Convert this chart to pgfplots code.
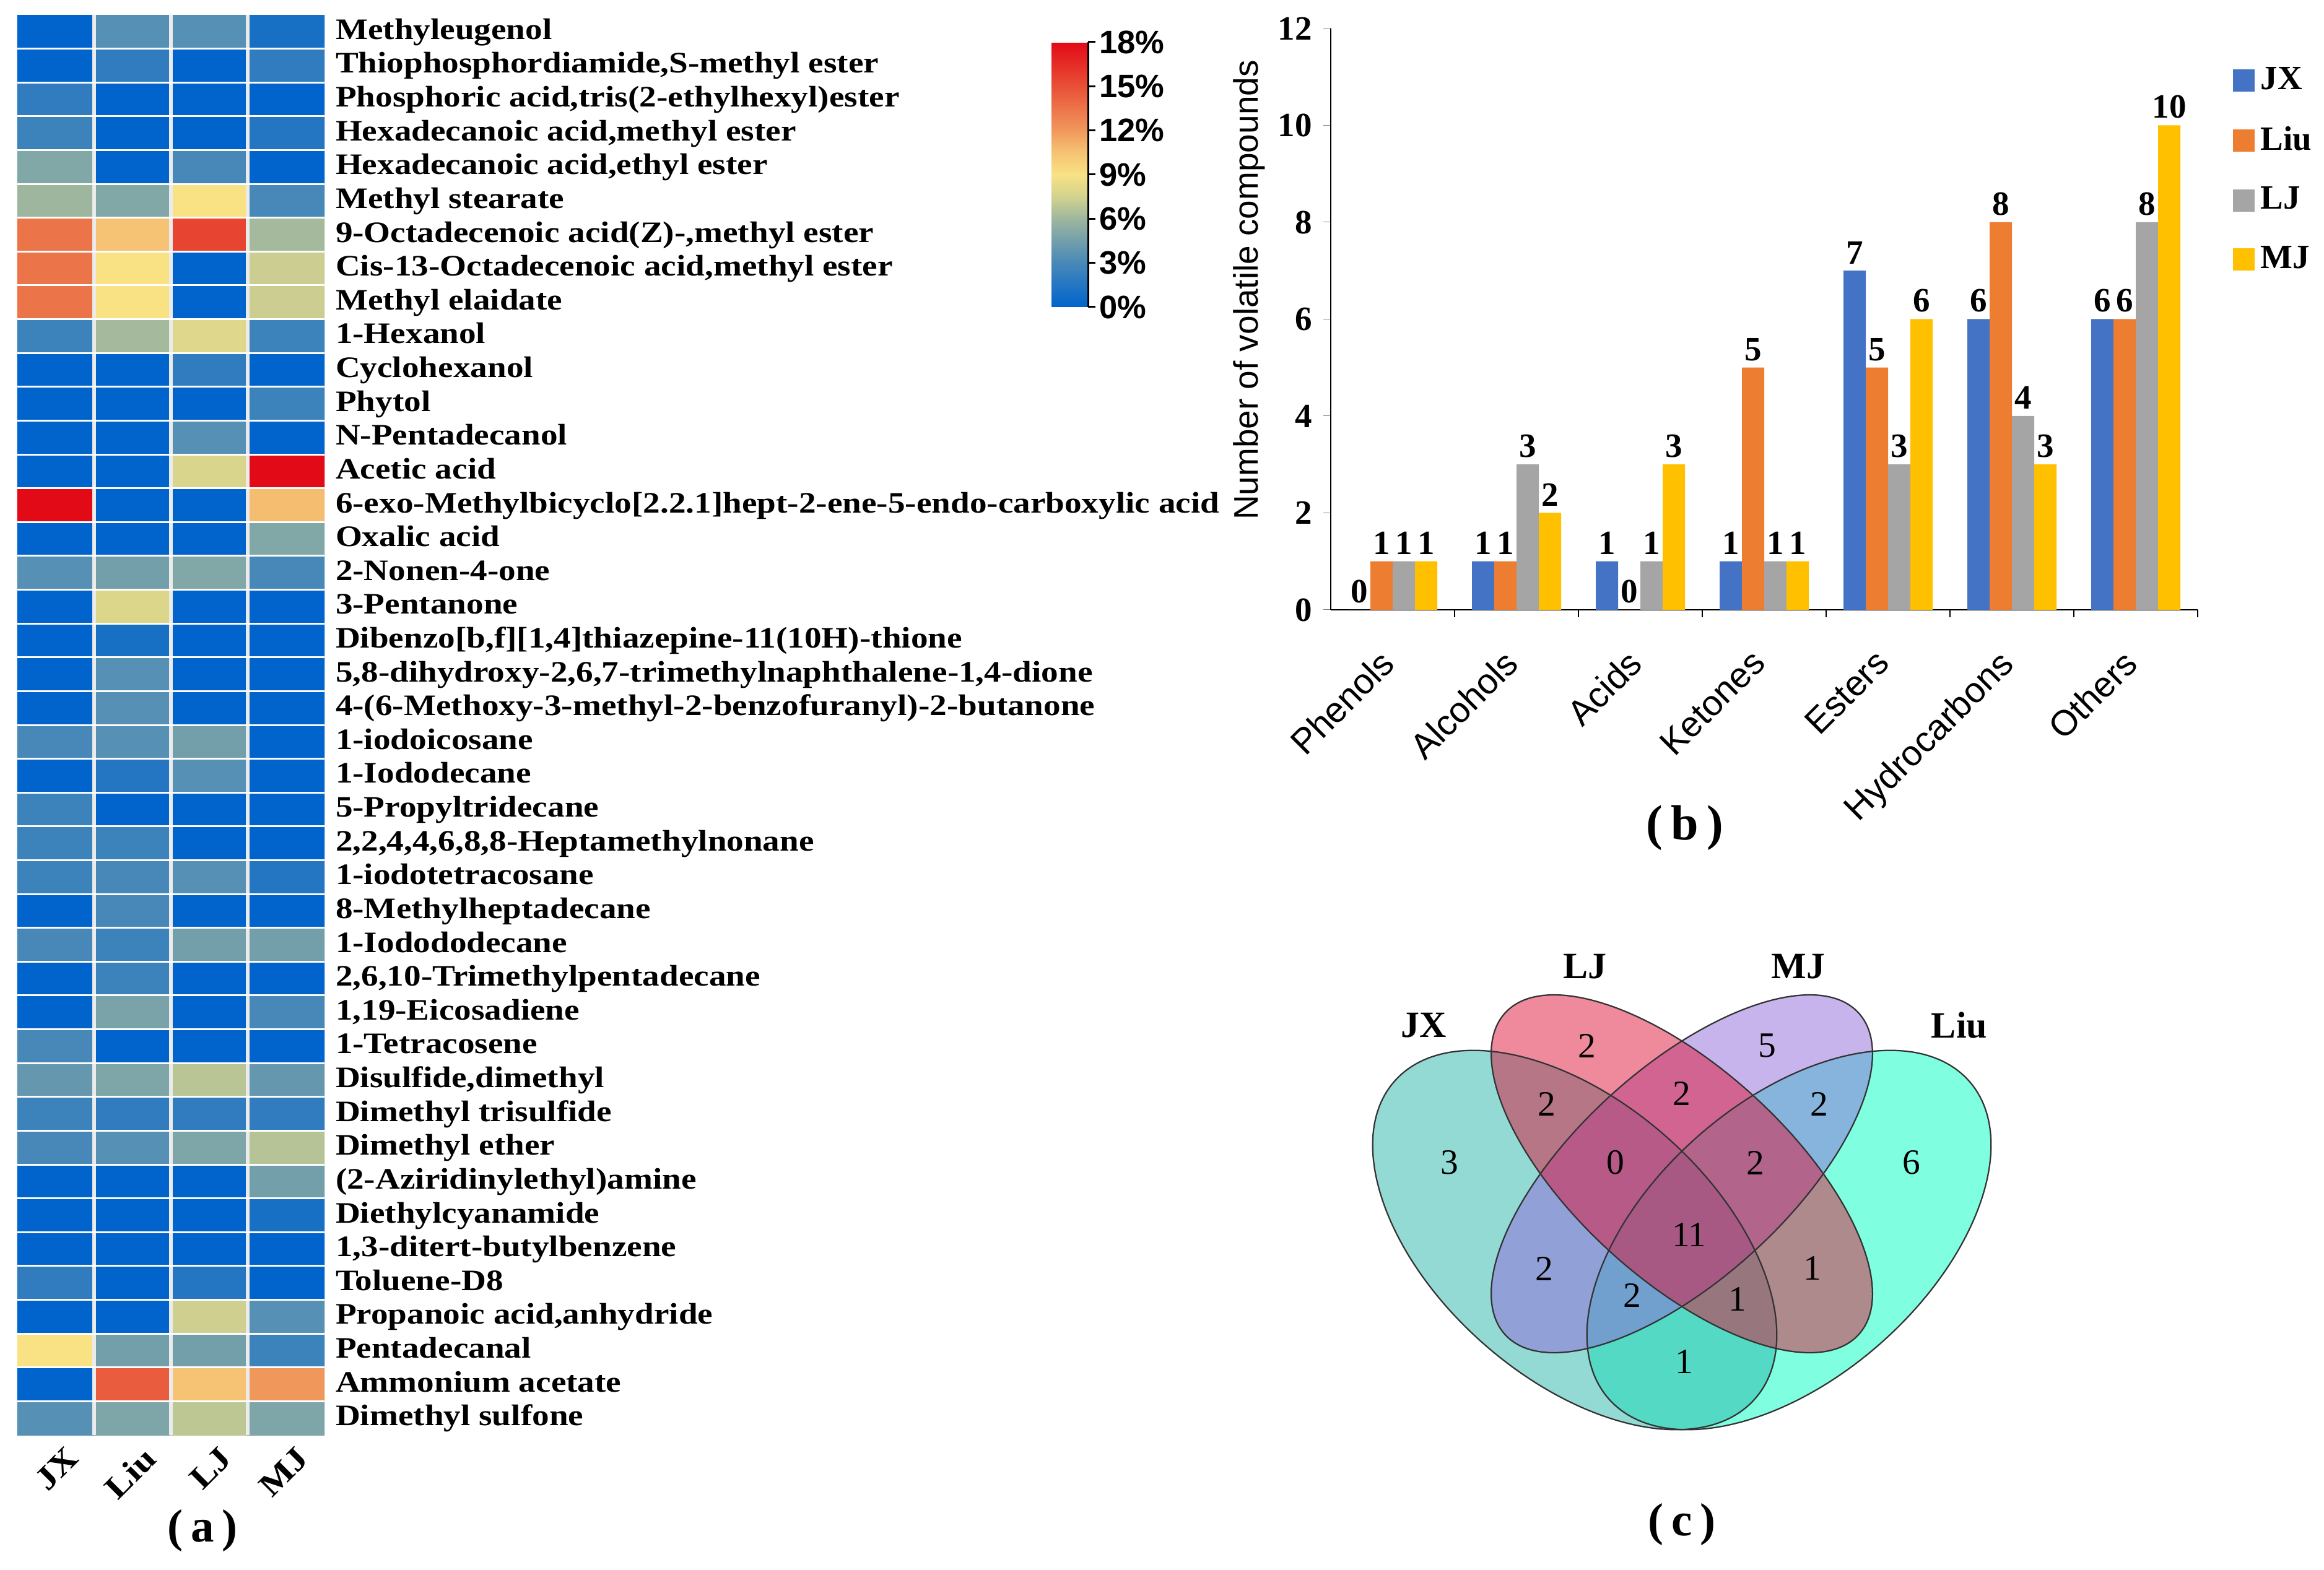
\documentclass[border=0pt]{standalone}
\usepackage{fontspec}
\setmainfont{Liberation Serif}
\newfontfamily\arial{Liberation Sans}
\newfontfamily\widefont{Liberation Serif}[FakeStretch=1.15]
\usepackage{pgfplots}
\pgfplotsset{compat=1.18}

\definecolor{cJX}{HTML}{4472C4}
\definecolor{cLiu}{HTML}{ED7D31}
\definecolor{cLJ}{HTML}{A5A5A5}
\definecolor{cMJ}{HTML}{FFC000}
\definecolor{vJX}{RGB}{39,179,169}
\definecolor{vLiu}{RGB}{0,255,193}
\definecolor{vLJ}{RGB}{221,21,57}
\definecolor{vMJ}{RGB}{145,105,217}

% colormap positions are in half percent steps (0..36 = 0..18 %)
\pgfplotsset{
  colormap={heat}{rgb255(0)=(0,100,204) rgb255(6)=(72,136,184) rgb255(12)=(158,182,158)
    rgb255(15)=(210,210,142) rgb255(18)=(248,226,132) rgb255(21)=(245,195,115)
    rgb255(24)=(240,152,92) rgb255(30)=(232,80,55) rgb255(36)=(226,10,22)},
}
\newcommand\lab{\widefont\bfseries\fontsize{9.6}{11}\selectfont}

\begin{document}
\begin{tikzpicture}
\path[use as bounding box] (0,0) rectangle (750.6pt,507pt);

% (a) heatmap
\begin{axis}[
  at={(5.6pt,43.4pt)}, anchor=south west,
  width=99.2pt, height=458.8pt, scale only axis,
  xmin=-0.5, xmax=3.5, ymin=-0.5, ymax=41.5, y dir=reverse,
  axis line style={draw=none}, major tick length=0pt, minor tick length=0pt,
  xtick={0,1,2,3}, xticklabels={JX,Liu,LJ,MJ},
  xticklabel style={xshift=3pt, yshift=-3pt, rotate=45, anchor=north east, inner sep=0pt,
    font=\widefont\bfseries\fontsize{10.5}{12}\selectfont},
  ytick={0,...,41}, yticklabel pos=right,
  yticklabels={{Methyleugenol},{Thiophosphordiamide,S-methyl ester},{Phosphoric acid,tris(2-ethylhexyl)ester},
    {Hexadecanoic acid,methyl ester},{Hexadecanoic acid,ethyl ester},{Methyl stearate},
    {9-Octadecenoic acid(Z)-,methyl ester},{Cis-13-Octadecenoic acid,methyl ester},{Methyl elaidate},
    {1-Hexanol},{Cyclohexanol},{Phytol},{N-Pentadecanol},{Acetic acid},
    {6-exo-Methylbicyclo[2.2.1]hept-2-ene-5-endo-carboxylic acid},{Oxalic acid},{2-Nonen-4-one},
    {3-Pentanone},{Dibenzo[b,f][1,4]thiazepine-11(10H)-thione},
    {5,8-dihydroxy-2,6,7-trimethylnaphthalene-1,4-dione},
    {4-(6-Methoxy-3-methyl-2-benzofuranyl)-2-butanone},{1-iodoicosane},{1-Iododecane},
    {5-Propyltridecane},{2,2,4,4,6,8,8-Heptamethylnonane},{1-iodotetracosane},
    {8-Methylheptadecane},{1-Iodododecane},{2,6,10-Trimethylpentadecane},{1,19-Eicosadiene},
    {1-Tetracosene},{Disulfide,dimethyl},{Dimethyl trisulfide},{Dimethyl ether},
    {(2-Aziridinylethyl)amine},{Diethylcyanamide},{1,3-ditert-butylbenzene},{Toluene-D8},
    {Propanoic acid,anhydride},{Pentadecanal},{Ammonium acetate},{Dimethyl sulfone}},
  yticklabel style={anchor=west, inner sep=0pt, font=\lab, xshift=3.4pt,
    text height=6.8pt, text depth=2pt},
  minor xtick={0.5,1.5,2.5}, minor ytick={0.5,1.5,...,40.5},
  xminorgrids=true, yminorgrids=true,
  x grid style={draw=black!8, line width=1.2pt},
  y grid style={draw=white, line width=0.6pt},
  axis on top,
  colormap name=heat, point meta min=0, point meta max=18,
]
\addplot[matrix plot*, mesh/cols=4, point meta=explicit] table[meta=c, row sep=\\] {
x y c\\
0 0 0\\ 1 0 3.5\\ 2 0 3.5\\ 3 0 1\\
0 1 0\\ 1 1 2\\ 2 1 0\\ 3 1 2\\
0 2 2\\ 1 2 0\\ 2 2 0\\ 3 2 0\\
0 3 2.5\\ 1 3 0\\ 2 3 0\\ 3 3 1.5\\
0 4 5\\ 1 4 0\\ 2 4 3\\ 3 4 0\\
0 5 6\\ 1 5 5\\ 2 5 9\\ 3 5 3\\
0 6 13.5\\ 1 6 10.5\\ 2 6 15.5\\ 3 6 6.2\\
0 7 13.5\\ 1 7 9\\ 2 7 0\\ 3 7 7.3\\
0 8 13.5\\ 1 8 9\\ 2 8 0\\ 3 8 7.3\\
0 9 2.5\\ 1 9 6.2\\ 2 9 8\\ 3 9 2.5\\
0 10 0\\ 1 10 0\\ 2 10 2\\ 3 10 0\\
0 11 0\\ 1 11 0\\ 2 11 0\\ 3 11 2.5\\
0 12 0\\ 1 12 0\\ 2 12 3.5\\ 3 12 0\\
0 13 0\\ 1 13 0\\ 2 13 7.8\\ 3 13 18\\
0 14 18\\ 1 14 0\\ 2 14 0\\ 3 14 10.7\\
0 15 0\\ 1 15 0\\ 2 15 0\\ 3 15 5\\
0 16 3.5\\ 1 16 4.5\\ 2 16 5\\ 3 16 3\\
0 17 0\\ 1 17 7.9\\ 2 17 0\\ 3 17 0\\
0 18 0\\ 1 18 1\\ 2 18 0\\ 3 18 0\\
0 19 0\\ 1 19 3.5\\ 2 19 0\\ 3 19 0\\
0 20 0\\ 1 20 3.5\\ 2 20 0\\ 3 20 0\\
0 21 3\\ 1 21 3.5\\ 2 21 4.5\\ 3 21 0\\
0 22 0\\ 1 22 1.5\\ 2 22 3.5\\ 3 22 0\\
0 23 2.5\\ 1 23 0\\ 2 23 0\\ 3 23 0\\
0 24 2.5\\ 1 24 2.5\\ 2 24 0\\ 3 24 0\\
0 25 2.5\\ 1 25 3\\ 2 25 3.5\\ 3 25 1.5\\
0 26 0\\ 1 26 3\\ 2 26 0\\ 3 26 0\\
0 27 3\\ 1 27 2.5\\ 2 27 4.5\\ 3 27 4.5\\
0 28 0\\ 1 28 2.5\\ 2 28 0\\ 3 28 0\\
0 29 0\\ 1 29 4.7\\ 2 29 0\\ 3 29 3\\
0 30 3\\ 1 30 0\\ 2 30 0\\ 3 30 0\\
0 31 4\\ 1 31 4.9\\ 2 31 6.8\\ 3 31 4\\
0 32 2.5\\ 1 32 2\\ 2 32 2\\ 3 32 2\\
0 33 3\\ 1 33 3.5\\ 2 33 4.9\\ 3 33 6.7\\
0 34 0\\ 1 34 0\\ 2 34 0\\ 3 34 4.5\\
0 35 0\\ 1 35 0\\ 2 35 0\\ 3 35 1\\
0 36 0\\ 1 36 0\\ 2 36 0\\ 3 36 0\\
0 37 2\\ 1 37 0\\ 2 37 1.5\\ 3 37 0\\
0 38 0\\ 1 38 0\\ 2 38 7.4\\ 3 38 3.5\\
0 39 9\\ 1 39 4.5\\ 2 39 4.5\\ 3 39 2.5\\
0 40 0\\ 1 40 14.5\\ 2 40 10.5\\ 3 40 12\\
0 41 3.5\\ 1 41 4.9\\ 2 41 6.9\\ 3 41 4.9\\
};
\end{axis}

% colour bar of (a)
\begin{axis}[
  at={(339.6pt,493.4pt)}, anchor=north west,
  width=11.8pt, height=85.6pt, scale only axis, hide axis,
  xmin=0, xmax=1, ymin=0, ymax=1,
  colormap name=heat, point meta min=0, point meta max=18,
  colorbar, colorbar shift/.style={}, colorbar/width=11.8pt,
  colorbar style={at={(parent axis.north west)}, anchor=north west,
    scale only axis, width=11.8pt, height=85.6pt,
    ytick={0,3,...,18}, yticklabels={0\%,3\%,6\%,9\%,12\%,15\%,18\%},
    yticklabel style={font=\arial\bfseries\fontsize{10.5}{11}\selectfont, inner sep=0pt, xshift=1.2pt},
    axis x line=none, axis y line*=right, axis line style={black, line width=0.6pt},
    tick align=outside, major tick length=2.3pt, ytick style={black, line width=0.6pt}},
]
\addplot[draw=none] coordinates {(0,0)};
\end{axis}

% (b) bar chart
\begin{axis}[
  at={(429.8pt,310pt)}, anchor=south west,
  width=280pt, height=187.8pt, scale only axis,
  xmin=-0.5, xmax=6.5, ymin=0, ymax=12,
  axis x line*=bottom, axis y line*=left,
  axis line style={black, line width=0.5pt},
  tick align=outside, major tick length=2.5pt,
  ytick={0,2,...,12},
  /pgf/number format/assume math mode=true,
  yticklabel style={font=\bfseries\fontsize{11}{12}\selectfont},
  xtick={0,...,6},
  xticklabels={Phenols,Alcohols,Acids,Ketones,Esters,Hydrocarbons,Others},
  xticklabel style={xshift=-4.7pt, yshift=-9.5pt, rotate=45, anchor=north east, inner sep=0pt,
    font=\arial\fontsize{11.5}{13}\selectfont},
  xtick style={draw=none},
  extra x ticks={0.5,1.5,...,6.5}, extra x tick labels={},
  extra x tick style={xtick style={draw=black, line width=0.5pt}},
  ylabel={Number of volatile compounds},
  ylabel style={font=\arial\fontsize{11}{12}\selectfont, at={(axis description cs:-0.094,0.55)}, anchor=center},
  ybar, bar width=0.18,
  nodes near coords,
  every node near coord/.append style={font=\bfseries\fontsize{11}{12}\selectfont, black,
    inner xsep=0.3pt, inner ysep=2pt},
  legend style={at={(1.04,0.945)}, anchor=north west, draw=none, fill=none,
    font=\bfseries\fontsize{11}{12}\selectfont, row sep=6.4pt, inner sep=0pt},
  legend cell align=left,
  every axis plot post/.append style={legend image code/.code={\fill[##1] (0pt,-3.6pt) rectangle (7pt,3.6pt);}},
]
\addplot[fill=cJX, draw=none, bar shift=-0.27] coordinates {(0,0) (1,1) (2,1) (3,1) (4,7) (5,6) (6,6)};
\addplot[fill=cLiu, draw=none, bar shift=-0.09] coordinates {(0,1) (1,1) (2,0) (3,5) (4,5) (5,8) (6,6)};
\addplot[fill=cLJ, draw=none, bar shift=0.09] coordinates {(0,1) (1,3) (2,1) (3,1) (4,3) (5,4) (6,8)};
\addplot[fill=cMJ, draw=none, bar shift=0.27] coordinates {(0,1) (1,2) (2,3) (3,1) (4,6) (5,3) (6,10)};
\legend{JX,Liu,LJ,MJ}
\end{axis}

% (c) Venn diagram
\begin{axis}[
  at={(420pt,0pt)}, anchor=south west,
  x=0.2pt, y=0.2pt, xmin=2100, xmax=3300, ymin=0, ymax=1100,
  hide axis, clip=false,
]
\addplot[draw=none] coordinates {(2100,0)};
\fill[vLiu, fill opacity=0.5, rotate around={41.4:(axis cs:2889,532)}] (axis cs:2889,532) ellipse [x radius=77.6pt, y radius=44.6pt];
\fill[vJX, fill opacity=0.5, rotate around={-41.4:(axis cs:2543,532)}] (axis cs:2543,532) ellipse [x radius=77.6pt, y radius=44.6pt];
\fill[vMJ, fill opacity=0.5, rotate around={42.3:(axis cs:2716,639)}] (axis cs:2716,639) ellipse [x radius=77.2pt, y radius=34.2pt];
\fill[vLJ, fill opacity=0.5, rotate around={-42.3:(axis cs:2716,639)}] (axis cs:2716,639) ellipse [x radius=77.2pt, y radius=34.2pt];
\draw[black!80, line width=0.45pt, rotate around={41.4:(axis cs:2889,532)}] (axis cs:2889,532) ellipse [x radius=77.6pt, y radius=44.6pt];
\draw[black!80, line width=0.45pt, rotate around={-41.4:(axis cs:2543,532)}] (axis cs:2543,532) ellipse [x radius=77.6pt, y radius=44.6pt];
\draw[black!80, line width=0.45pt, rotate around={42.3:(axis cs:2716,639)}] (axis cs:2716,639) ellipse [x radius=77.2pt, y radius=34.2pt];
\draw[black!80, line width=0.45pt, rotate around={-42.3:(axis cs:2716,639)}] (axis cs:2716,639) ellipse [x radius=77.2pt, y radius=34.2pt];
\begin{scope}[every node/.style={font=\fontsize{11.5}{12}\selectfont}]
\node at (axis cs:2341,657) {3};
\node at (axis cs:2563,846) {2};
\node at (axis cs:2854,846) {5};
\node at (axis cs:3087,657) {6};
\node at (axis cs:2498,752) {2};
\node at (axis cs:2716,769) {2};
\node at (axis cs:2938,752) {2};
\node at (axis cs:2609,657) {0};
\node at (axis cs:2835,657) {2};
\node at (axis cs:2728,540) {11};
\node at (axis cs:2494,486) {2};
\node at (axis cs:2927,486) {1};
\node at (axis cs:2636,443) {2};
\node at (axis cs:2806,436) {1};
\node at (axis cs:2720,335) {1};
\end{scope}
\begin{scope}[every node/.style={font=\bfseries\fontsize{12}{13}\selectfont}]
\node at (axis cs:2559,974) {LJ};
\node at (axis cs:2904,974) {MJ};
\node at (axis cs:2299,879) {JX};
\node at (axis cs:3164,879) {Liu};
\end{scope}
\end{axis}

% panel captions
\node[font=\bfseries\fontsize{15}{17}\selectfont] at (65.4pt,12.6pt) {(\,a\,)};
\node[font=\bfseries\fontsize{16}{18}\selectfont] at (544.2pt,239.6pt) {(\,b\,)};
\node[font=\bfseries\fontsize{15}{17}\selectfont] at (543.2pt,14.6pt) {(\,c\,)};
\end{tikzpicture}
\end{document}
